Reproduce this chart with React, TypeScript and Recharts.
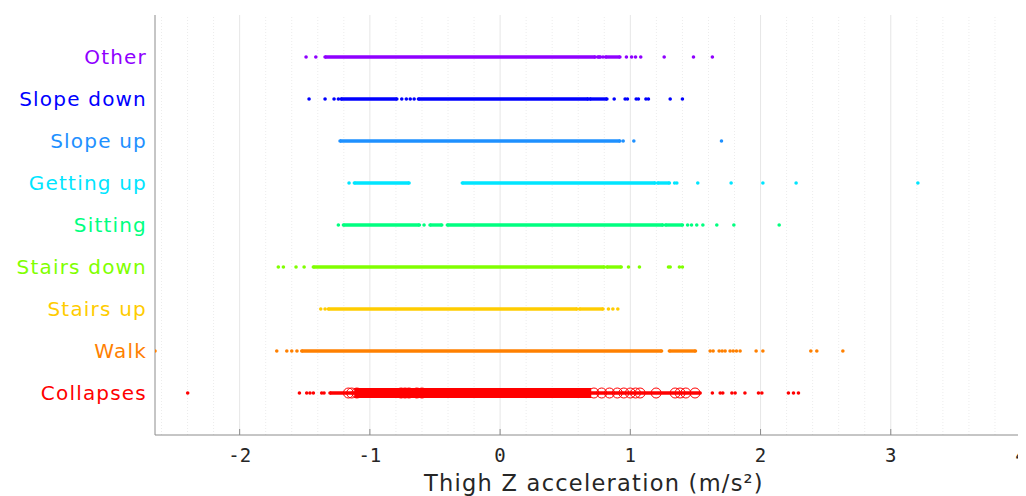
import React from 'react';
import { ScatterChart, Scatter, XAxis, YAxis, ReferenceLine } from 'recharts';

// categories, bottom to top (y = index + 1)
const categories = ['Collapses', 'Walk', 'Stairs up', 'Stairs down', 'Sitting', 'Getting up', 'Slope up', 'Slope down', 'Other'];
const colors = ['#ff0000', '#ff8000', '#ffcc00', '#80ff00', '#00ff80', '#00e5ff', '#1e90ff', '#0000ff', '#8f00ff'];
const xTicks = [-2, -1, 0, 1, 2, 3, 4];

// dense stretches of samples [from, to] and isolated samples, read per category
const collapsesRuns = [[-1.306, 1.536]];
const collapsesDots = [-2.399, -1.541, -1.485, -1.46, -1.434, -1.37, -1.352, 1.63, 1.69, 1.71, 1.78, 1.805, 1.88, 1.984, 2.01, 2.214, 2.253, 2.291];
const collapsesBand = [[-1.12, 0.7]];
const collapsesCircles = [-1.165, -1.14, -1.1, -0.76, -0.73, -0.7, -0.64, -0.6, 0.72, 0.78, 0.84, 0.9, 0.95, 1.0, 1.04, 1.075, 1.198, 1.344, 1.382, 1.426, 1.497];

const walkRuns = [[-1.523, 1.24], [1.3, 1.5]];
const walkDots = [-2.65, -1.715, -1.638, -1.6, -1.56, 1.613, 1.636, 1.682, 1.705, 1.728, 1.766, 1.79, 1.815, 1.843, 1.966, 2.018, 2.386, 2.432, 2.632];

const stairsUpRuns = [[-1.319, 0.59], [0.61, 0.79]];
const stairsUpDots = [-1.377, -1.344, 0.832, 0.866, 0.904];

const stairsDownRuns = [[-1.434, 0.8], [0.82, 0.93]];
const stairsDownDots = [-1.703, -1.664, -1.567, -1.505, 0.986, 1.07, 1.293, 1.306, 1.377, 1.4];

const sittingRuns = [[-1.203, -0.62], [-0.538, -0.448], [-0.405, 1.25], [1.27, 1.4]];
const sittingDots = [-1.242, -0.584, 1.44, 1.47, 1.51, 1.557, 1.664, 1.795, 2.143];

const gettingUpRuns = [[-1.119, -0.699], [-0.29, 1.19], [1.21, 1.3]];
const gettingUpDots = [-1.16, 1.34, 1.357, 1.518, 1.774, 2.018, 2.273, 3.208];

const slopeUpRuns = [[-1.229, 0.92]];
const slopeUpDots = [0.945, 1.027, 1.7];

const slopeDownRuns = [[-1.221, -0.793], [-0.627, 0.676], [0.69, 0.82]];
const slopeDownDots = [-1.467, -1.344, -1.275, -1.242, -0.755, -0.72, -0.69, -0.66, 0.876, 0.96, 0.978, 1.045, 1.062, 1.12, 1.139, 1.306, 1.4];

const otherRuns = [[-1.344, 0.73], [0.75, 0.77], [0.81, 0.92]];
const otherDots = [-1.49, -1.415, 0.79, 0.97, 1.01, 1.04, 1.08, 1.26, 1.485, 1.63];

const runsByCat = [collapsesRuns, walkRuns, stairsUpRuns, stairsDownRuns, sittingRuns, gettingUpRuns, slopeUpRuns, slopeDownRuns, otherRuns];
const dotsByCat = [collapsesDots, walkDots, stairsUpDots, stairsDownDots, sittingDots, gettingUpDots, slopeUpDots, slopeDownDots, otherDots];

const minorTicks: number[] = [];
for (let v = -26; v <= 40; v += 2) if (v % 10 !== 0) minorTicks.push(v / 10);

const FONT = '"DejaVu Sans", sans-serif';

const dot = (color: string, r = 1.8) => (p: any) => <circle cx={p.cx} cy={p.cy} r={r} fill={color} />;
const ring = (p: any) => <circle cx={p.cx} cy={p.cy} r={5} fill="none" stroke="#ff0000" strokeWidth={1} />;

const CategoryTick = (props: any) => {
  const i = props.payload.value - 1;
  return (
    <text x={props.x} y={props.y} dy="0.36em" textAnchor="end" fill={colors[i]} fontSize={20} fontFamily={FONT} letterSpacing={1.2}>
      {categories[i]}
    </text>
  );
};

const ValueTick = (props: any) => (
  <text x={props.x} y={props.y} dy="0.74em" textAnchor="middle" fill="#262626" fontSize={19} fontFamily='"DejaVu Sans Mono", monospace'>
    {props.payload.value}
  </text>
);

export default function App() {
  return (
    <ScatterChart width={1018} height={488} margin={{ top: 7, right: 5, bottom: 1, left: 10 }}>
      {minorTicks.map(v => (
        <ReferenceLine key={`m${v}`} x={v} stroke="#ececec" strokeDasharray="1 2" />
      ))}
      {xTicks.map(v => (
        <ReferenceLine key={`g${v}`} x={v} stroke="#e6e6e6" />
      ))}
      <XAxis
        type="number"
        dataKey="x"
        domain={[-2.65, 4]}
        ticks={xTicks}
        interval={0}
        allowDataOverflow
        height={60}
        tickSize={-6}
        tickMargin={19}
        stroke="#8c8c8c"
        tick={<ValueTick />}
        label={{ value: 'Thigh Z acceleration (m/s²)', position: 'insideBottom', offset: 4, dx: 6, fill: '#262626', fontSize: 22.5, fontFamily: FONT, letterSpacing: 1.25 }}
      />
      <YAxis
        type="number"
        dataKey="y"
        domain={[0, 10]}
        ticks={[1, 2, 3, 4, 5, 6, 7, 8, 9]}
        interval={0}
        width={137}
        tickLine={false}
        stroke="#8c8c8c"
        tick={<CategoryTick />}
      />
      <Scatter
        data={collapsesBand.map(([a, b]) => [{ x: a, y: 1 }, { x: b, y: 1 }]).flat()}
        fill="#ff0000"
        line={{ stroke: '#ff0000', strokeWidth: 10 }}
        shape={dot('#ff0000', 0)}
        isAnimationActive={false}
      />
      <Scatter
        data={collapsesCircles.map(x => ({ x, y: 1 }))}
        fill="#ff0000"
        shape={ring}
        isAnimationActive={false}
      />
      {runsByCat.map((runs, i) =>
        runs.map(([a, b], j) => (
          <Scatter
            key={`r${i}-${j}`}
            data={[{ x: a, y: i + 1 }, { x: b, y: i + 1 }]}
            fill={colors[i]}
            line={{ stroke: colors[i], strokeWidth: 3.4 }}
            shape={dot(colors[i])}
            isAnimationActive={false}
          />
        ))
      )}
      {dotsByCat.map((xs, i) => (
        <Scatter
          key={`d${i}`}
          data={xs.map(x => ({ x, y: i + 1 }))}
          fill={colors[i]}
          shape={dot(colors[i])}
          isAnimationActive={false}
        />
      ))}
    </ScatterChart>
  );
}
